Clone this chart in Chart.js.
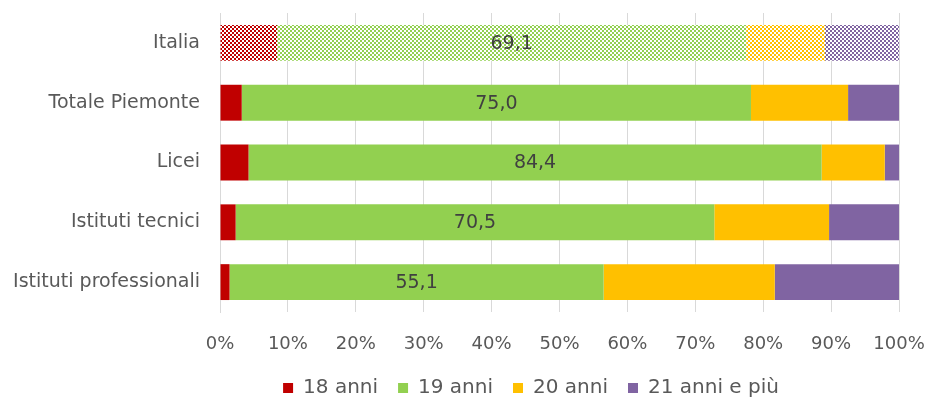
<!DOCTYPE html>
<html>
<head>
<meta charset="utf-8">
<script src="https://cdn.jsdelivr.net/npm/chart.js@4.4.1/dist/chart.umd.min.js"></script>
<style>
  html, body { margin: 0; padding: 0; background: #fff; }
  #wrap { width: 926px; height: 401px; position: relative; }
</style>
</head>
<body>
<div id="wrap"><canvas id="chart"></canvas></div>
<script>
const categories = ["Italia", "Totale Piemonte", "Licei", "Istituti tecnici", "Istituti professionali"];
const seriesNames = ["18 anni", "19 anni", "20 anni", "21 anni e più"];
const anni18 = [8.4, 3.2, 4.2, 2.3, 1.4];
const anni19 = [69.1, 75.0, 84.4, 70.5, 55.1];
const anni20 = [11.6, 14.3, 9.3, 16.9, 25.2];
const anni21 = [10.9, 7.5, 2.1, 10.3, 18.3];
const xTicks = [0, 10, 20, 30, 40, 50, 60, 70, 80, 90, 100];

const COLORS = ["#C00000", "#92D050", "#FFC000", "#8064A2"];
const FONT = "'DejaVu Sans', sans-serif";
const TEXT = "#595959";

// checkerboard fill used for the Italia bar
function makePattern(color) {
  const c = document.createElement("canvas");
  c.width = 4; c.height = 4;
  const g = c.getContext("2d");
  g.fillStyle = "#ffffff";
  g.fillRect(0, 0, 4, 4);
  g.fillStyle = color;
  g.fillRect(0, 0, 2, 2);
  g.fillRect(2, 2, 2, 2);
  return g.createPattern(c, "repeat");
}

function fillFor(color) {
  const pat = makePattern(color);
  return ctx => ctx.dataIndex === 0 ? pat : color;
}

// label only the 19 anni segment
const centerLabels = {
  id: "centerLabels",
  afterDatasetsDraw(chart) {
    const meta = chart.getDatasetMeta(1);
    const g = chart.ctx;
    g.save();
    g.font = "19px " + FONT;
    g.fillStyle = "#404040";
    g.textAlign = "center";
    g.textBaseline = "middle";
    meta.data.forEach((bar, i) => {
      const x = (bar.x + bar.base) / 2;
      g.fillText(anni19[i].toFixed(1).replace(".", ","), x, bar.y + 1);
    });
    g.restore();
  }
};

// legend in the original sits a bit right of the canvas centre
const legendShift = {
  id: "legendShift",
  afterLayout(chart) {
    chart.legend.left += 68;
    chart.legend.right += 68;
  }
};

const seriesData = [anni18, anni19, anni20, anni21];

new Chart(document.getElementById("chart"), {
  type: "bar",
  data: {
    labels: categories,
    datasets: seriesNames.map((name, i) => ({
      label: name,
      data: seriesData[i],
      backgroundColor: fillFor(COLORS[i]),
      borderWidth: 0,
      barPercentage: 0.6,
      categoryPercentage: 1.0,
    }))
  },
  options: {
    indexAxis: "y",
    responsive: true,
    maintainAspectRatio: false,
    animation: false,
    layout: { padding: { left: 0, right: 0, top: 13, bottom: -7 } },
    plugins: {
      legend: {
        position: "bottom",
        labels: {
          color: TEXT,
          font: { family: FONT, size: 20 },
          boxWidth: 10,
          boxHeight: 10,
          padding: 20,
          generateLabels(chart) {
            return chart.data.datasets.map((ds, i) => ({
              text: ds.label,
              fillStyle: COLORS[i],
              strokeStyle: COLORS[i],
              lineWidth: 0,
              fontColor: TEXT,
              datasetIndex: i,
            }));
          }
        }
      },
      tooltip: { enabled: false },
    },
    scales: {
      x: {
        stacked: true,
        min: 0,
        max: 100,
        afterBuildTicks: scale => { scale.ticks = xTicks.map(v => ({ value: v })); },
        ticks: {
          color: TEXT,
          font: { family: FONT, size: 18 },
          padding: 22,
          callback: v => v + "%",
        },
        grid: { color: "#D9D9D9", lineWidth: 1, drawTicks: false },
        border: { display: false },
        afterFit: scale => { scale.height = 46; scale.paddingRight = 27; scale.paddingLeft = 0; },
      },
      y: {
        stacked: true,
        ticks: {
          color: TEXT,
          font: { family: FONT, size: 19 },
          padding: 20,
        },
        grid: { display: false, drawTicks: false },
        border: { display: true, color: "#D9D9D9" },
        afterFit: scale => { scale.width = 220; scale.paddingTop = 0; scale.paddingBottom = 0; },
      }
    }
  },
  plugins: [centerLabels, legendShift]
});
</script>
</body>
</html>
